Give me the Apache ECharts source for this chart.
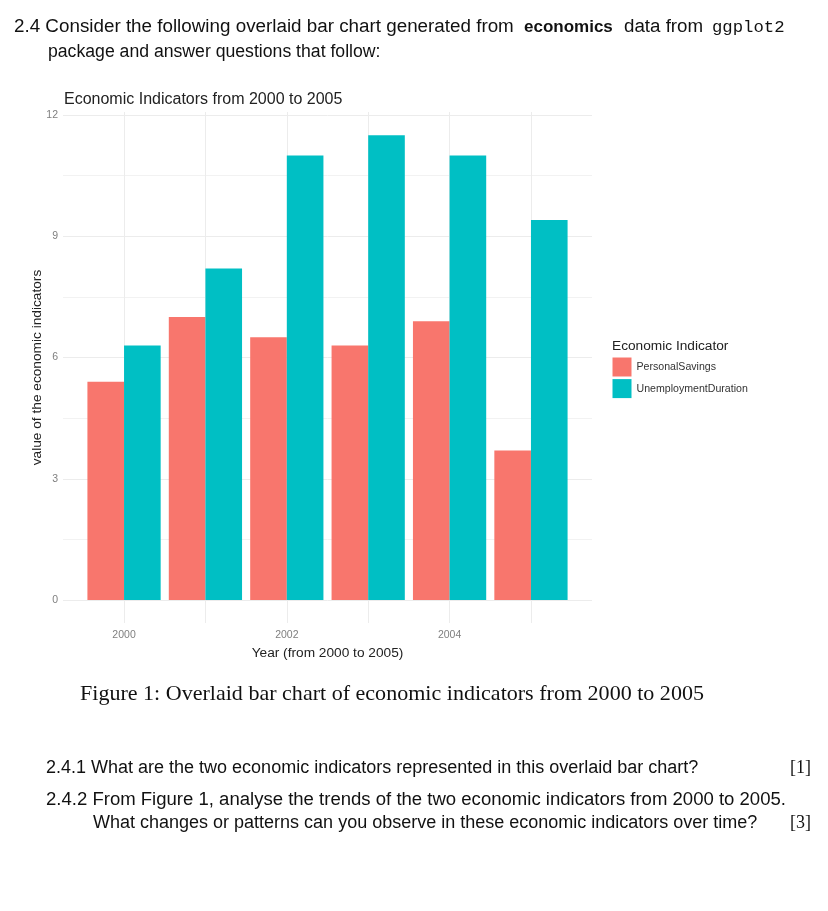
<!DOCTYPE html>
<html><head><meta charset="utf-8">
<script src="https://cdn.jsdelivr.net/npm/echarts@6/dist/echarts.min.js"></script>
<style>html,body{margin:0;padding:0;background:#fff}#c{width:828px;height:911px}</style>
</head><body><div id="c"></div>
<script>
const years = [2000, 2001, 2002, 2003, 2004, 2005];
const personalSavings = [5.4, 7.0, 6.5, 6.3, 6.9, 3.7];
const unemploymentDuration = [6.3, 8.2, 11.0, 11.5, 11.0, 9.4];
const xLabelYears = [2000, 2002, 2004];
const seriesNames = ['PersonalSavings', 'UnemploymentDuration'];
const colors = ['#F8766D', '#00BFC4'];

const chart = echarts.init(document.getElementById('c'), null, {renderer: 'canvas'});
const sans = 'Liberation Sans, Arial, sans-serif';
const docFont = 'Liberation Sans, Arial, sans-serif';
const serif = 'Liberation Serif, serif';
const mono = 'Liberation Mono, monospace';
const grid0 = {left: 63, right: 236, top: 115, height: 485};
const grid1 = {left: 63, right: 236, top: 112, bottom: 288};
const xMin = 1999.25, xMax = 2005.75;

function txt(x, y, text, font, sx) {
  return {type: 'text', x: x, y: y, scaleX: sx || 1,
    style: {text: text, font: font, fill: '#111', textVerticalAlign: 'middle', textAlign: 'left'}};
}

const option = {
  backgroundColor: '#ffffff',
  animation: false,
  title: [
    {text: 'Economic Indicators from 2000 to 2005', left: 64, top: 92, padding: 0,
     textStyle: {fontFamily: sans, fontSize: 16, fontWeight: 'normal', color: '#222'}},
    {text: 'Economic Indicator', left: 612, top: 339, padding: 0,
     textStyle: {fontFamily: sans, fontSize: 13.7, fontWeight: 'normal', color: '#222'}}
  ],
  legend: {
    data: seriesNames, orient: 'vertical', left: 612.5, top: 357.5, padding: 0,
    icon: 'rect', itemWidth: 19, itemHeight: 19, itemGap: 2.6,
    textStyle: {fontFamily: sans, fontSize: 10.6, color: '#333'}
  },
  grid: [
    Object.assign({containLabel: false}, grid0),
    Object.assign({containLabel: false}, grid1)
  ],
  xAxis: [
    {type: 'value', gridIndex: 0, min: xMin, max: xMax, show: false, splitLine: {show: false}},
    {type: 'value', gridIndex: 1, min: xMin, max: xMax,
     name: 'Year (from 2000 to 2005)', nameLocation: 'middle', nameGap: 21,
     nameTextStyle: {fontFamily: sans, fontSize: 13.7, color: '#222'},
     axisLine: {show: false},
     axisTick: {show: false, customValues: years},
     axisLabel: {customValues: xLabelYears, formatter: v => String(v), fontFamily: sans, fontSize: 10.5, color: '#7f7f7f', margin: 7},
     splitLine: {show: true, lineStyle: {color: '#ececec', width: 1}}}
  ],
  yAxis: [
    {type: 'value', gridIndex: 0, min: 0, max: 12, interval: 3,
     axisLine: {show: false}, axisTick: {show: false},
     axisLabel: {fontFamily: sans, fontSize: 10.5, color: '#7f7f7f', margin: 5},
     splitLine: {show: true, lineStyle: {color: '#ececec', width: 1}},
     minorTick: {show: false, splitNumber: 2},
     minorSplitLine: {show: true, lineStyle: {color: '#f2f2f2', width: 1}}},
    {type: 'value', gridIndex: 1, min: 0, max: 1,
     name: 'value of the economic indicators', nameLocation: 'middle', nameGap: 19, nameRotate: 90,
     nameTextStyle: {fontFamily: sans, fontSize: 13.7, color: '#222'},
     axisLine: {show: false}, axisTick: {show: false}, axisLabel: {show: false}, splitLine: {show: false}}
  ],
  series: [
    {name: seriesNames[0], type: 'bar', xAxisIndex: 0, yAxisIndex: 0,
     data: years.map((y, i) => [y, personalSavings[i]]),
     barWidth: '45%', barGap: '0%', itemStyle: {color: colors[0]}},
    {name: seriesNames[1], type: 'bar', xAxisIndex: 0, yAxisIndex: 0,
     data: years.map((y, i) => [y, unemploymentDuration[i]]),
     barWidth: '45%', barGap: '0%', itemStyle: {color: colors[1]}}
  ],
  graphic: [
    txt(14, 27, '2.4 Consider the following overlaid bar chart generated from', '18px ' + docFont, 1.045),
    txt(524, 27, 'economics', 'bold 17px ' + docFont, 1.0),
    txt(624, 27, 'data from', '18px ' + docFont, 1.04),
    txt(712, 27, 'ggplot2', '17.3px ' + mono, 1.0),
    txt(48, 52, 'package and answer questions that follow:', '18px ' + docFont, 0.98),
    txt(80, 694, 'Figure 1: Overlaid bar chart of economic indicators from 2000 to 2005', '21px ' + serif, 1.05),
    txt(46, 768, '2.4.1 What are the two economic indicators represented in this overlaid bar chart?', '18px ' + docFont, 1.0),
    txt(790, 768, '[1]', '18px ' + serif, 1.0),
    txt(46, 800, '2.4.2 From Figure 1, analyse the trends of the two economic indicators from 2000 to 2005.', '18px ' + docFont, 1.03),
    txt(93, 823, 'What changes or patterns can you observe in these economic indicators over time?', '18px ' + docFont, 1.0),
    txt(790, 823, '[3]', '18px ' + serif, 1.0)
  ]
};
chart.setOption(option);
</script></body></html>
